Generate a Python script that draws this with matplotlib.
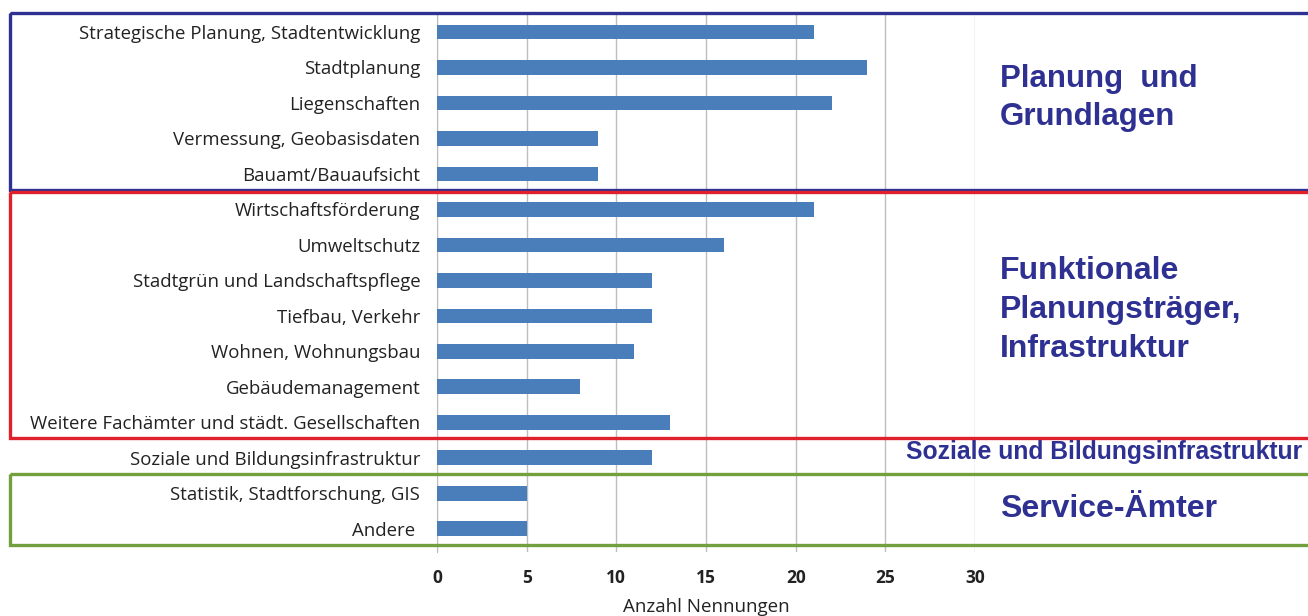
import matplotlib
matplotlib.use("Agg")
import matplotlib.pyplot as plt
import matplotlib.transforms as mtransforms
from matplotlib.patches import Rectangle

categories = [
    "Strategische Planung, Stadtentwicklung",
    "Stadtplanung",
    "Liegenschaften",
    "Vermessung, Geobasisdaten",
    "Bauamt/Bauaufsicht",
    "Wirtschaftsförderung",
    "Umweltschutz",
    "Stadtgrün und Landschaftspflege",
    "Tiefbau, Verkehr",
    "Wohnen, Wohnungsbau",
    "Gebäudemanagement",
    "Weitere Fachämter und städt. Gesellschaften",
    "Soziale und Bildungsinfrastruktur",
    "Statistik, Stadtforschung, GIS",
    "Andere ",
]
values = [21, 24, 22, 9, 9, 21, 16, 12, 12, 11, 8, 13, 12, 5, 5]
xticks = [0, 5, 10, 15, 20, 25, 30]

W, H = 1308, 616
fig = plt.figure(figsize=(W / 100, H / 100), dpi=100)
ax = fig.add_axes([437 / W, 1 - 552 / H, (975 - 437) / W, (552 - 13) / H])

ypos = list(range(len(categories)))
ax.barh(ypos, values, height=0.42, color="#4a7ebb", zorder=3)
ax.set_ylim(14.65, -0.535)
ax.set_xlim(0, 30)
ax.set_yticks(ypos)
ax.set_yticklabels(categories, fontsize=13.4, family="Open Sans", color="#222222")
ax.set_xticks(xticks)
ax.set_xticklabels([str(t) for t in xticks], fontsize=12.5, fontweight="bold",
                   family="Open Sans", color="#222222")
ax.tick_params(axis="y", length=0, pad=12)
ax.tick_params(axis="x", length=0, pad=12)
ax.xaxis.grid(True, color="#bdbdbd", lw=1, zorder=0)
for s in ["top", "right", "bottom"]:
    ax.spines[s].set_visible(False)
ax.spines["left"].set_color("#bdbdbd")
ax.set_xlabel("Anzahl Nennungen", fontsize=13.5, family="Open Sans", color="#222222", labelpad=8)

# group boxes: x in figure coords, y in data rows
tr = mtransforms.blended_transform_factory(fig.transFigure, ax.transData)
x0 = 10 / W
bw = 1.05
boxes = [(-0.535, 4.45, "#2e3192"), (4.5, 11.44, "#e0202a"), (12.45, 14.45, "#72a03c")]
for top, bot, col in boxes:
    fig.add_artist(Rectangle((x0, top), bw, bot - top, transform=tr, fill=False,
                             edgecolor=col, lw=2.4, clip_on=False, zorder=5))

txt = dict(transform=tr, color="#2e3192", fontweight="bold", family="Liberation Sans",
           va="center", ha="left")
fig.text(1000 / W, 1.85, "Planung  und\nGrundlagen", fontsize=22.5, linespacing=1.35, **txt)
fig.text(1000 / W, 7.83, "Funktionale\nPlanungsträger,\nInfrastruktur", fontsize=23,
         linespacing=1.38, **txt)
fig.text(906 / W, 11.83, "Soziale und Bildungsinfrastruktur", fontsize=17.8, **txt)
fig.text(1000 / W, 13.44, "Service-Ämter", fontsize=23, **txt)

fig.savefig("out.png", dpi=100)
